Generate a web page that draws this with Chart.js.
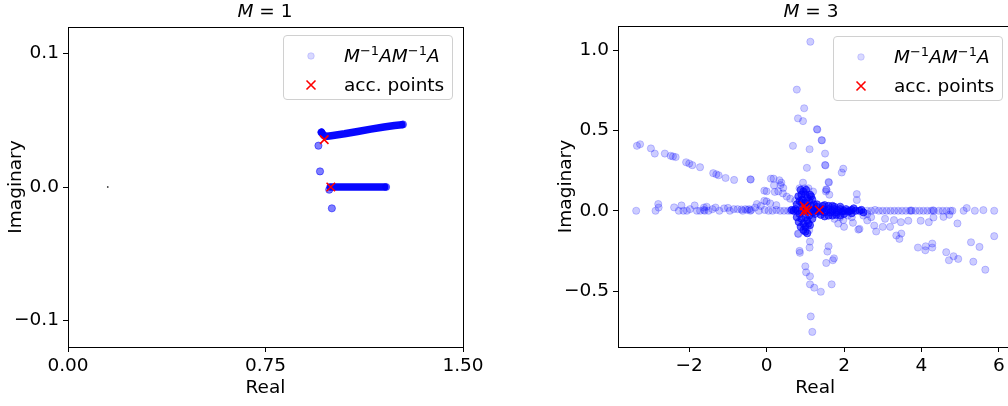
<!DOCTYPE html>
<html lang="en">
<head>
  <meta charset="UTF-8" />
  <title>Eigenvalues M=1 / M=3</title>
  <script src="https://cdn.jsdelivr.net/npm/chart.js"></script>
  <style>
    body { margin: 0; width: 1008px; height: 406px; overflow: hidden; background: #fff; position: relative; font-family: "DejaVu Sans", sans-serif; color: #000; }
    .plot { position: absolute; top: 0; }
    .title { position: absolute; top: 0px; font-size: 18.5px; transform: translateX(-50%); white-space: nowrap; }
    .legend {
      position: absolute; width: 170px; height: 65px; box-sizing: border-box;
      border: 1px solid #d0d0d0; border-radius: 4px; background: rgba(255,255,255,0.8);
      font-size: 18.5px;
    }
    .legend .row { position: absolute; left: 0; height: 24px; width: 100%; }
    .legend svg { position: absolute; left: 19px; top: 5px; }
    .legend .txt { position: absolute; left: 60px; top: 0; line-height: 24px; white-space: nowrap; }
    .legend sup { font-size: 13px; vertical-align: 0; position: relative; top: -7px; font-style: normal; }
    i { font-style: italic; }
  </style>
</head>
<body>
  <div class="plot" style="left:0"><canvas id="c1" width="500" height="406"></canvas></div>
  <div class="plot" style="left:540px"><canvas id="c2" width="480" height="406"></canvas></div>

  <div class="title" style="left:265px"><i>M</i> = 1</div>
  <div class="title" style="left:811px"><i>M</i> = 3</div>

  <div class="legend" style="left:283px; top:35px">
    <div class="row" style="top:8px">
      <svg width="16" height="14"><circle cx="8" cy="7" r="3.3" fill="rgba(0,0,255,0.15)" stroke="rgba(0,0,255,0.15)"/></svg>
      <div class="txt"><i>M</i><sup>−1</sup><i>A</i><i>M</i><sup>−1</sup><i>A</i></div>
    </div>
    <div class="row" style="top:37px">
      <svg width="16" height="14"><path d="M3.5 2.5 L12.5 11.5 M12.5 2.5 L3.5 11.5" stroke="#f00" stroke-width="1.6"/></svg>
      <div class="txt">acc. points</div>
    </div>
  </div>
  <div class="legend" style="left:833px; top:36px">
    <div class="row" style="top:8px">
      <svg width="16" height="14"><circle cx="8" cy="7" r="3.3" fill="rgba(0,0,255,0.15)" stroke="rgba(0,0,255,0.15)"/></svg>
      <div class="txt"><i>M</i><sup>−1</sup><i>A</i><i>M</i><sup>−1</sup><i>A</i></div>
    </div>
    <div class="row" style="top:37px">
      <svg width="16" height="14"><path d="M3.5 2.5 L12.5 11.5 M12.5 2.5 L3.5 11.5" stroke="#f00" stroke-width="1.6"/></svg>
      <div class="txt">acc. points</div>
    </div>
  </div>

<script>
  // ---- M = 1 ----
  const m1Xticks = [0, 0.75, 1.5];
  const m1Yticks = [-0.1, 0, 0.1];
  // dense bands of eigenvalues
  const m1UpperBand = [[0.963,0.041],[0.972,0.0385],[0.985,0.0381],[1.0,0.0385],[1.05,0.0399],[1.10,0.0416],[1.15,0.0434],[1.20,0.0450],[1.24,0.0461],[1.268,0.0467]];
  const m1LowerBand = [[0.996,0.0],[1.10,0.0],[1.203,0.0]];
  const m1Points = [[0.951,0.031],[0.957,0.0117],[1.002,-0.016],[0.992,-0.002],[0.962,0.041],[1.272,0.0469],[1.208,0.0]];
  const m1Tiny = [[0.151,0.0]];
  const m1Acc = [[0.973,0.0355],[0.998,0.0]];

  // ---- M = 3 ----
  const m3Xticks = [-2, 0, 2, 4, 6];
  const m3Yticks = [-0.5, 0, 0.5, 1.0];
  const m3ArmUpper = [[-3.35,0.404],[-3.27,0.414],[-2.99,0.388],[-2.89,0.356],[-2.63,0.356],[-2.48,0.342],[-2.42,0.338],[-2.35,0.334],
    [-2.08,0.302],[-2.0,0.294],[-1.92,0.284],[-1.72,0.271],[-1.38,0.234],[-1.30,0.227],[-1.24,0.221],[-1.06,0.204],[-0.84,0.192],
    [-0.42,0.196],[-0.41,0.194],[0.11,0.2],[0.18,0.2],[0.33,0.19],[0.38,0.175],[0.36,0.16],[0.19,0.158],[0.43,0.142],[-0.06,0.125],
    [0.0,0.121],[0.21,0.117],[0.30,0.121],[0.42,0.108],[0.52,0.088],[0.61,0.075],[0.74,0.062],[-0.25,0.042],[-0.06,0.062],[0.0,0.058],
    [0.09,0.046],[0.25,0.035]];
  const m3ZeroLeft = [[-3.37,0],[-2.87,0],[-2.80,0.042],[-2.79,0.02],[-2.39,0.021],[-2.27,0],[-2.20,0.033],[-2.15,0],[-2.06,0],[-1.98,0.01],
    [-1.86,0.033],[-1.80,0],[-1.72,0],[-1.62,0.02],[-1.62,0.005],[-1.60,0],[-1.55,0.025],[-1.5,0],[-1.4,0.01],[-1.32,0.02],[-1.22,0],
    [-1.1,0.015],[-1.0,0.018],[-0.95,0],[-0.85,0.01],[-0.75,0.01],[-0.65,0.008],[-0.62,0],[-0.55,0.01],[-0.5,0.005],[-0.45,0.01],
    [-0.42,0],[-0.4,0.005],[-0.3,0.02],[-0.2,0],[-0.15,0.03],[-0.05,0.005],[0.05,0],[0.15,0],[0.25,0.005],[0.35,0],[0.45,0],[0.55,0],[0.62,0],[0.7,0]];
  const m3Vertical = [[1.13,1.052],[0.78,0.754],[0.97,0.638],[0.81,0.575],[0.94,0.558],[1.30,0.508],[1.31,0.505],[1.42,0.44],[1.43,0.438],
    [0.68,0.404],[1.11,0.383],[1.51,0.356],[1.51,0.285],[1.52,0.282],[1.04,0.267],[1.98,0.262],[1.94,0.238],[0.94,0.175],[0.85,0.14],
    [0.98,0.14],[1.08,0.14],[1.60,0.179],[1.61,0.176],[1.54,0.133],[1.55,0.13],[1.53,0.12],[2.33,0.104],[2.33,0.067],[1.62,0.1],[1.2,0.12],
    [0.81,-0.142],[0.82,-0.145],[1.12,-0.192],[1.11,-0.229],[0.85,-0.25],[0.86,-0.262],[1.60,-0.221],[1.57,-0.254],[1.74,-0.296],
    [1.71,-0.308],[1.54,-0.325],[1.00,-0.346],[1.02,-0.383],[1.12,-0.408],[1.12,-0.458],[1.23,-0.479],[1.40,-0.504],[1.68,-0.458],
    [1.14,-0.658],[1.18,-0.754],[1.05,-0.1],[1.1,-0.12]];
  const m3ArmRight = [[1.98,-0.058],[2.23,-0.075],[2.37,-0.117],[2.40,-0.113],[2.78,-0.092],[2.83,-0.129],[3.00,-0.1],[3.19,-0.1],
    [3.06,-0.05],[3.29,-0.058],[3.47,-0.071],[3.66,-0.062],[3.35,-0.154],[3.48,-0.142],[3.43,-0.175],[3.98,-0.062],[4.19,-0.071],
    [4.31,-0.042],[4.57,-0.038],[4.72,-0.025],[4.93,-0.079],[3.91,-0.229],[4.10,-0.246],[4.11,-0.221],[4.28,-0.229],[4.28,-0.204],
    [4.64,-0.258],[4.83,-0.283],[4.95,-0.3],[4.71,-0.308],[5.28,-0.196],[5.50,-0.225],[5.34,-0.317],[5.65,-0.367],[5.88,-0.158],
    [5.09,0],[5.17,0.017],[5.38,0],[5.60,0.004],[5.88,0],[2.1,-0.03],[2.2,-0.04],[2.5,-0.03],[2.6,-0.02],[1.9,-0.04],[1.75,-0.05],
    [2.0,-0.1],[1.85,-0.08],[2.6,-0.06],[2.7,-0.04]];
  const m3ZeroRight = [[2.0,0],[2.6,0],[2.7,0],[2.8,0.005],[2.9,0],[3.0,0],[3.1,0],[3.2,0],[3.3,0],[3.4,0],[3.5,0],[3.6,0],[3.7,0],
    [3.73,0.002],[3.75,0],[3.85,0],[3.95,0],[4.05,0],[4.15,0],[4.25,0],[4.3,0.003],[4.32,0],[4.45,0],[4.55,0],[4.65,0],[4.75,0],[4.8,0]];
  // the solid blob around 1 + 0i and the thick band to its right
  const m3Core = [[0.85,0.06],[0.9,0.1],[0.95,0.12],[1.0,0.1],[1.05,0.08],[1.1,0.06],[1.15,0.03],[0.85,-0.02],[0.9,-0.05],[0.95,-0.08],
    [1.0,-0.1],[1.05,-0.06],[1.1,-0.03],[1.0,-0.13],[0.9,0],[1.0,0],[1.1,0],[1.2,0],[0.95,0.03],[1.05,0.03],[1.0,0.05],[1.0,-0.04],
    [0.8,0],[0.75,0.01],[0.7,0],[0.65,0.005],[1.25,0.01],[1.3,0],[1.35,-0.005],[1.4,0],[1.45,0.01],[1.5,-0.01],[1.55,0],[1.6,0.01],
    [1.65,-0.01],[1.7,0],[1.75,0.01],[1.8,-0.01],[1.85,0],[1.9,0.01],[1.95,-0.005],[2.0,0],[2.05,0.01],[2.1,-0.005],[2.15,0],[2.2,0.005],
    [2.3,0],[2.4,0],[1.3,0.025],[1.45,0.03],[1.6,0.03],[1.75,0.025],[1.4,-0.025],[1.6,-0.03],[1.8,-0.025],[2.0,-0.02],
    [0.82,0.09],[0.88,0.13],[1.02,0.13],[1.12,0.1],[1.18,0.07],[1.22,0.04],[0.83,-0.07],[0.88,-0.1],[0.95,-0.12],[1.05,-0.14],
    [1.12,-0.09],[1.18,-0.05],[1.25,-0.02],[0.92,0.07],[1.08,-0.08],[0.78,0.04],[0.78,-0.04],[1.2,-0.01],[1.15,0.09],[0.9,0.05],
    [1.3,0.04],[1.5,0.035],[1.7,0.03],[1.9,0.025],[1.5,-0.035],[1.7,-0.03],[1.9,-0.03],[2.2,-0.015],[2.25,0.015],[2.45,0.005],[2.5,-0.01]];
  const m3Acc = [[0.97,0.03],[1.01,0.01],[1.06,0.0],[0.97,-0.005],[1.36,0.005]];

  const FONT = { family: "'DejaVu Sans', sans-serif", size: 18.5 };
  const pts = arr => arr.map(([x, y]) => ({ x, y }));
  const minus = s => s.replace('-', '\u2212');

  // top/right spines like the matplotlib box
  const frame = {
    id: 'frame',
    afterDatasetsDraw(chart) {
      const { ctx, chartArea: a } = chart;
      ctx.save();
      ctx.strokeStyle = '#000';
      ctx.lineWidth = 1;
      ctx.strokeRect(Math.round(a.left) + 0.5, Math.round(a.top) + 0.5, Math.round(a.right - a.left), Math.round(a.bottom - a.top));
      ctx.restore();
    }
  };

  function axis(min, max, tickVals, fmt, isX, width, titleText, titlePad) {
    return {
      type: 'linear', min, max,
      position: isX ? 'bottom' : 'left',
      border: { display: false },
      grid: { drawOnChartArea: false, drawTicks: true, tickLength: 5, color: '#000', tickWidth: 1 },
      ticks: { color: '#000', font: FONT, padding: isX ? 3 : 4, maxRotation: 0, autoSkip: false, callback: fmt },
      afterBuildTicks: s => { s.ticks = tickVals.map(v => ({ value: v })); },
      afterFit: s => { if (isX) s.height = width; else s.width = width; },
      title: { display: true, text: titleText, color: '#000', font: FONT, padding: titlePad }
    };
  }

  const dot = a => ({ pointRadius: 3.6, pointBackgroundColor: `rgba(0,0,255,${a})`, pointBorderColor: `rgba(0,0,255,${a})`, pointBorderWidth: 1, pointHoverRadius: 3.6 });
  const accStyle = { pointStyle: 'crossRot', pointRadius: 6, pointBorderColor: '#ff0000', pointBackgroundColor: '#ff0000', pointBorderWidth: 1.6, order: 0 };

  new Chart(document.getElementById('c1'), {
    type: 'scatter',
    data: {
      datasets: [
        { data: pts(m1Acc), ...accStyle },
        { data: pts(m1Points), ...dot(0.5), order: 1 },
        { data: pts(m1UpperBand), showLine: true, pointRadius: 0, borderColor: 'rgba(0,0,255,0.97)', borderWidth: 7.5, borderCapStyle: 'round', borderJoinStyle: 'round', order: 2 },
        { data: pts(m1LowerBand), showLine: true, pointRadius: 0, borderColor: 'rgba(0,0,255,0.97)', borderWidth: 7.5, borderCapStyle: 'round', borderJoinStyle: 'round', order: 2 },
        { data: pts(m1Tiny), pointRadius: 0.9, pointBackgroundColor: '#444', pointBorderWidth: 0, order: 3 }
      ]
    },
    options: {
      responsive: false, animation: false,
      layout: { padding: { top: 27, right: 37, bottom: 0, left: 0 } },
      plugins: { legend: { display: false }, tooltip: { enabled: false } },
      scales: {
        x: axis(0, 1.5, m1Xticks, v => v.toFixed(2), true, 59, 'Real', { top: 0, bottom: 7 }),
        y: axis(-0.12, 0.12, m1Yticks, v => minus(v.toFixed(1)), false, 68, 'Imaginary', { top: 5, bottom: 0 })
      }
    },
    plugins: [frame]
  });

  new Chart(document.getElementById('c2'), {
    type: 'scatter',
    data: {
      datasets: [
        { data: pts(m3Acc), ...accStyle },
        { data: pts(m3Core), ...dot(0.6), order: 1 },
        { data: pts(m3ArmUpper), ...dot(0.2), order: 2 },
        { data: pts(m3ZeroLeft), ...dot(0.2), order: 2 },
        { data: pts(m3Vertical), ...dot(0.2), order: 2 },
        { data: pts(m3ArmRight), ...dot(0.2), order: 2 },
        { data: pts(m3ZeroRight), ...dot(0.2), order: 2 }
      ]
    },
    options: {
      responsive: false, animation: false,
      layout: { padding: { top: 26, right: 7, bottom: 0, left: 0 } },
      plugins: { legend: { display: false }, tooltip: { enabled: false } },
      scales: {
        x: axis(-3.84, 6.35, m3Xticks, v => minus(String(v)), true, 59, 'Real', { top: 0, bottom: 7 }),
        y: axis(-0.848, 1.15, m3Yticks, v => minus(v.toFixed(1)), false, 78, 'Imaginary', { top: 15, bottom: 0 })
      }
    },
    plugins: [frame]
  });
</script>
</body>
</html>
